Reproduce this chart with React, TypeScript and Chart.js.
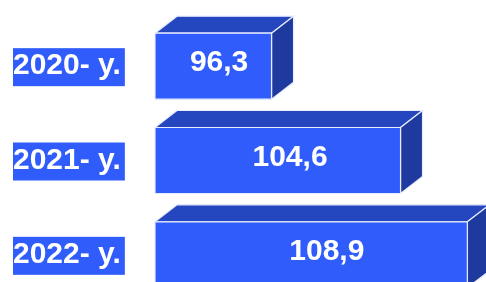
import React, { useEffect, useRef } from "react";
import { Chart, registerables } from "chart.js";

Chart.register(...registerables);

const categories = ["2020- y.", "2021- y.", "2022- y."];
const values = [96.3, 104.6, 108.9];
const valueLabels = ["96,3", "104,6", "108,9"];

const AXIS_MIN = 88.8;
const AXIS_MAX = 110.1;

const FRONT = "#2f5cfa";
const TOP = "#2447c0";
const SIDE = "#1e3a9e";
const FONT = "'Liberation Sans', Arial, sans-serif";

const box3d = {
  id: "box3d",
  afterDatasetsDraw(chart: any) {
    const ctx = chart.ctx;
    const meta = chart.getDatasetMeta(0);
    const dx = 22;
    const dy = 17;
    ctx.save();
    meta.data.forEach((bar: any, i: number) => {
      const { x, y, base, height } = bar.getProps(["x", "y", "base", "height"], true);
      const top = y - height / 2;
      const bottom = y + height / 2;
      const left = base;
      const right = x;
      ctx.lineWidth = 1.2;
      ctx.strokeStyle = "#e8ecff";
      ctx.beginPath();
      ctx.moveTo(left, top);
      ctx.lineTo(left + dx, top - dy);
      ctx.lineTo(right + dx, top - dy);
      ctx.lineTo(right, top);
      ctx.closePath();
      ctx.fillStyle = TOP;
      ctx.fill();
      ctx.stroke();
      ctx.beginPath();
      ctx.moveTo(right, top);
      ctx.lineTo(right + dx, top - dy);
      ctx.lineTo(right + dx, bottom - dy);
      ctx.lineTo(right, bottom);
      ctx.closePath();
      ctx.fillStyle = SIDE;
      ctx.fill();
      ctx.stroke();
      ctx.beginPath();
      ctx.rect(left, top, right - left, bottom - top);
      ctx.fillStyle = FRONT;
      ctx.fill();
      ctx.stroke();
      ctx.fillStyle = "#ffffff";
      ctx.font = `bold 30px ${FONT}`;
      ctx.textAlign = "center";
      ctx.textBaseline = "middle";
      ctx.fillText(valueLabels[i], left + 0.55 * (right - left), y - 3);
    });
    ctx.restore();
  },
};

export default function App() {
  const ref = useRef<HTMLCanvasElement | null>(null);
  useEffect(() => {
    document.body.style.margin = "0";
    const chart = new Chart(ref.current as HTMLCanvasElement, {
      type: "bar",
      data: {
        labels: categories,
        datasets: [
          {
            data: values,
            base: AXIS_MIN,
            backgroundColor: "rgba(0,0,0,0)",
            borderWidth: 0,
            barThickness: 66,
          },
        ],
      },
      options: {
        indexAxis: "y",
        animation: false,
        responsive: false,
        maintainAspectRatio: false,
        layout: { padding: { top: 19, right: 0, bottom: 0, left: 13 } },
        plugins: { legend: { display: false }, tooltip: { enabled: false } },
        scales: {
          x: { display: false, min: AXIS_MIN, max: AXIS_MAX },
          y: {
            afterFit: (scale: any) => {
              scale.width = 142;
            },
            grid: { display: false, drawTicks: false },
            border: { display: false },
            ticks: {
              color: "#ffffff",
              font: { family: FONT, size: 30, weight: "bold" },
              padding: 0,
              crossAlign: "far",
              showLabelBackdrop: true,
              backdropColor: FRONT,
              backdropPadding: { top: 0, bottom: 2, left: 2, right: 4 },
            },
          },
        },
      },
      plugins: [box3d],
    } as any);
    return () => chart.destroy();
  }, []);
  return (
    <div style={{ position: "fixed", left: 0, top: 0, width: 486, height: 282, overflow: "hidden", background: "#fff" }}>
      <canvas ref={ref} width={486} height={320} style={{ display: "block" }} />
    </div>
  );
}
